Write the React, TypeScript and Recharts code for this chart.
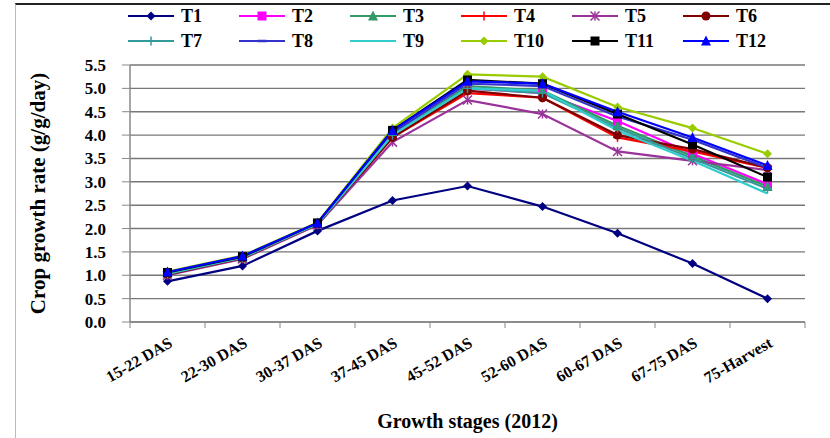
import React from "react";
import { LineChart, Line, XAxis, YAxis, CartesianGrid, Label } from "recharts";

const stages = [
  "15-22 DAS",
  "22-30 DAS",
  "30-37 DAS",
  "37-45 DAS",
  "45-52 DAS",
  "52-60 DAS",
  "60-67 DAS",
  "67-75 DAS",
  "75-Harvest",
];

const t1 = [0.87, 1.2, 1.95, 2.6, 2.91, 2.47, 1.9, 1.25, 0.5];
const t2 = [1.05, 1.38, 2.1, 4.05, 5.0, 4.9, 4.3, 3.6, 2.95];
const t3 = [1.03, 1.37, 2.1, 4.0, 5.05, 4.95, 4.2, 3.55, 2.9];
const t4 = [1.02, 1.36, 2.08, 3.95, 4.9, 4.8, 3.95, 3.65, 3.3];
const t5 = [1.0, 1.35, 2.08, 3.85, 4.75, 4.45, 3.65, 3.45, 3.25];
const t6 = [1.02, 1.37, 2.1, 3.95, 4.95, 4.8, 4.0, 3.7, 3.3];
const t7 = [1.03, 1.38, 2.1, 4.0, 5.0, 4.9, 4.15, 3.5, 2.85];
const t8 = [1.05, 1.4, 2.12, 4.05, 5.1, 5.05, 4.4, 3.9, 3.3];
const t9 = [1.04, 1.38, 2.1, 4.0, 5.0, 4.95, 4.1, 3.45, 2.75];
const t10 = [1.08, 1.42, 2.13, 4.15, 5.3, 5.25, 4.6, 4.15, 3.6];
const t11 = [1.06, 1.4, 2.12, 4.1, 5.18, 5.1, 4.45, 3.8, 3.1];
const t12 = [1.07, 1.41, 2.12, 4.1, 5.15, 5.1, 4.5, 3.95, 3.35];

const yTicks = [0, 0.5, 1, 1.5, 2, 2.5, 3, 3.5, 4, 4.5, 5, 5.5];

const series = [
  { key: "T1", values: t1, color: "#000080", shape: "diamond" },
  { key: "T2", values: t2, color: "#ff00ff", shape: "square" },
  { key: "T3", values: t3, color: "#339966", shape: "triangle" },
  { key: "T4", values: t4, color: "#ff0000", shape: "plus" },
  { key: "T5", values: t5, color: "#993399", shape: "star" },
  { key: "T6", values: t6, color: "#800000", shape: "circle" },
  { key: "T7", values: t7, color: "#339999", shape: "plus" },
  { key: "T8", values: t8, color: "#3333cc", shape: "dash" },
  { key: "T9", values: t9, color: "#33cccc", shape: "none" },
  { key: "T10", values: t10, color: "#99cc00", shape: "diamond" },
  { key: "T11", values: t11, color: "#000000", shape: "square" },
  { key: "T12", values: t12, color: "#0000ff", shape: "triangle" },
];

const data = stages.map((s, i) => {
  const row: any = { stage: s };
  series.forEach((sr) => (row[sr.key] = sr.values[i]));
  return row;
});

const FONT = "'Liberation Serif', 'Times New Roman', serif";

function Marker({ shape, cx, cy, color }: any) {
  if (cx == null || cy == null) return null;
  const r = 4.5;
  switch (shape) {
    case "diamond":
      return <polygon points={`${cx},${cy - r} ${cx + r},${cy} ${cx},${cy + r} ${cx - r},${cy}`} fill={color} />;
    case "square":
      return <rect x={cx - r} y={cy - r} width={2 * r} height={2 * r} fill={color} />;
    case "triangle":
      return <polygon points={`${cx},${cy - r - 1} ${cx + r + 0.5},${cy + r} ${cx - r - 0.5},${cy + r}`} fill={color} />;
    case "circle":
      return <circle cx={cx} cy={cy} r={r} fill={color} />;
    case "plus":
      return (
        <g stroke={color} strokeWidth={1.5}>
          <line x1={cx - r} y1={cy} x2={cx + r} y2={cy} />
          <line x1={cx} y1={cy - r} x2={cx} y2={cy + r} />
        </g>
      );
    case "star":
      return (
        <g stroke={color} strokeWidth={1.5}>
          <line x1={cx - r} y1={cy - r} x2={cx + r} y2={cy + r} />
          <line x1={cx - r} y1={cy + r} x2={cx + r} y2={cy - r} />
          <line x1={cx} y1={cy - r} x2={cx} y2={cy + r} />
        </g>
      );
    case "dash":
      return <line x1={cx - r} y1={cy} x2={cx + r} y2={cy} stroke={color} strokeWidth={2.5} />;
    default:
      return null;
  }
}

function StageTick({ x, y, payload, index }: any) {
  const half = 37.5;
  return (
    <g>
      <line x1={x - half} y1={y - 8} x2={x - half} y2={y - 2} stroke="#888" />
      {index === stages.length - 1 && <line x1={x + half} y1={y - 8} x2={x + half} y2={y - 2} stroke="#888" />}
      <text
        x={x + 6}
        y={y + 16}
        textAnchor="end"
        transform={`rotate(-30, ${x + 6}, ${y + 16})`}
        fontFamily={FONT}
        fontWeight="bold"
        fontSize={16}
        fill="#000"
      >
        {payload.value}
      </text>
    </g>
  );
}

function LegendBox() {
  return (
    <svg width={700} height={55} style={{ position: "absolute", left: 128, top: 3 }}>
      {series.map((s, i) => {
        const col = i % 6;
        const row = Math.floor(i / 6);
        const x = col * 111;
        const y = 13 + row * 25;
        return (
          <g key={s.key}>
            <line x1={x} y1={y} x2={x + 46} y2={y} stroke={s.color} strokeWidth={2} />
            <Marker shape={s.shape} cx={x + 23} cy={y} color={s.color} />
            <text x={x + 53} y={y + 6} fontFamily={FONT} fontWeight="bold" fontSize={18} fill="#000">
              {s.key}
            </text>
          </g>
        );
      })}
    </svg>
  );
}

export default function App() {
  return (
    <div style={{ position: "absolute", left: 0, top: 0, width: 830, height: 438, background: "#fff", overflow: "hidden" }}>
      <div
        style={{
          position: "absolute",
          left: 15,
          top: 3,
          width: 830,
          height: 440,
          borderTop: "2px solid #222",
          borderLeft: "1px solid #bbb",
        }}
      />
      <LineChart width={830} height={438} data={data} margin={{ top: 65, right: 25, bottom: 8, left: 20 }}>
        <CartesianGrid vertical={false} stroke="#777" strokeWidth={1.4} />
        <XAxis
          dataKey="stage"
          padding={{ left: 37.5, right: 37.5 }}
          tick={<StageTick />}
          tickLine={false}
          axisLine={{ stroke: "#888", strokeWidth: 1.5 }}
          interval={0}
          height={108}
        >
          <Label
            value="Growth stages (2012)"
            position="insideBottom"
            offset={2}
            style={{ fontFamily: FONT, fontWeight: "bold", fontSize: 20, fill: "#000" }}
          />
        </XAxis>
        <YAxis
          domain={[0, 5.5]}
          ticks={yTicks}
          tickFormatter={(v: number) => v.toFixed(1)}
          interval={0}
          width={110}
          tickSize={8}
          tickMargin={16}
          axisLine={{ stroke: "#888", strokeWidth: 1.5 }}
          tickLine={{ stroke: "#888" }}
          tick={{ fontFamily: FONT, fontWeight: "bold", fontSize: 17, fill: "#000" }}
        >
          <Label
            value="Crop growth rate (g/g/day)"
            angle={-90}
            position="insideLeft"
            offset={18}
            style={{ textAnchor: "middle", fontFamily: FONT, fontWeight: "bold", fontSize: 21, fill: "#000" }}
          />
        </YAxis>
        {series.map((s) => (
          <Line
            key={s.key}
            dataKey={s.key}
            stroke={s.color}
            strokeWidth={2.2}
            isAnimationActive={false}
            dot={(p: any) => <Marker key={`${s.key}-${p.index}`} shape={s.shape} cx={p.cx} cy={p.cy} color={s.color} />}
            activeDot={false}
          />
        ))}
      </LineChart>
      <LegendBox />
    </div>
  );
}
